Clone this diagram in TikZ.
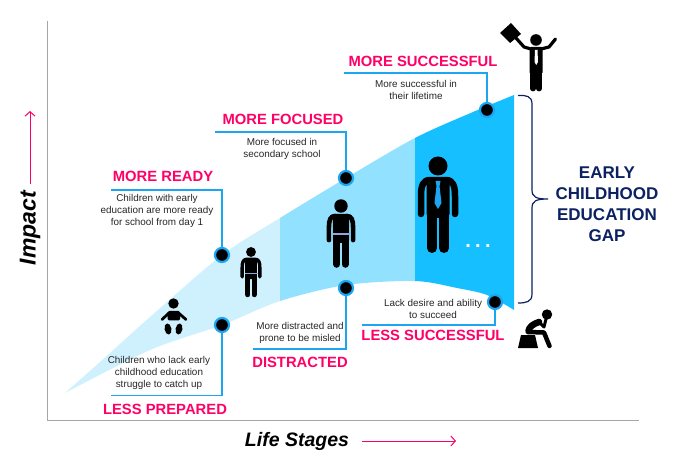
\documentclass[tikz,border=0pt]{standalone}
\usepackage{fontspec}
\setmainfont{Liberation Sans}
\usetikzlibrary{arrows.meta}
\definecolor{bandlight}{HTML}{CFF0FD}
\definecolor{bandmid}{HTML}{92E1FF}
\definecolor{banddark}{HTML}{16BFFF}
\definecolor{hotpink}{HTML}{FF0066}
\definecolor{navytext}{HTML}{0B2161}
\definecolor{ringblue}{HTML}{1CA5F0}
\definecolor{axisgrey}{HTML}{A6A6A6}
\definecolor{beltblue}{HTML}{8FA6E0}
\tikzset{
    heading/.style={text=hotpink, font=\fontsize{14.8}{17}\selectfont\bfseries},
    note/.style={text=black!85, align=center, font=\fontsize{9.9}{12}\selectfont},
    gaptext/.style={text=navytext, align=center, font=\fontsize{17}{21}\selectfont\bfseries},
    axistitle/.style={font=\fontsize{19.5}{22}\selectfont\bfseries\itshape},
    dot/.style={circle, fill=black, draw=ringblue, line width=2.2pt, minimum size=14pt, inner sep=0pt},
    leader/.style={ringblue, line width=1.1pt},
    pinkarrow/.style={hotpink, line width=1pt, -{Straight Barb[length=4.5pt, width=10pt]}},
    axisline/.style={axisgrey, line width=1.1pt},
    limb/.style={black, line cap=round, line join=round},
}
% standing figure, head centre at (#1,#2), #3 = size
\newcommand{\personfig}[3]{
    \begin{scope}[shift={(#1,#2)}, scale=#3]
        \fill[black] (0,0) circle (9.5);
        \fill[black, rounded corners=4*#3] (-11.5,11) rectangle (11.5,52);
        \draw[limb, line width=#3*10pt] (-6,45) -- (-6,82) (6,45) -- (6,82);
        \draw[limb, line width=#3*6.5pt] (-8,14) .. controls (-15,14) and (-17,20) .. (-17,30) -- (-17,48);
        \draw[limb, line width=#3*6.5pt] (8,14) .. controls (15,14) and (17,20) .. (17,30) -- (17,48);
    \end{scope}
}
\newcommand{\gapband}{plot[smooth] coordinates {(65,393) (100,362) (150,317) (222,255) (280,218) (346,178) (415,138) (473,112) (514,95)} -- plot[smooth] coordinates {(514,310) (487,295) (457,288) (415,281) (346,285) (280,301) (222,325) (150,350) (65,393)} -- cycle}

\begin{document}
\begin{tikzpicture}[x=1pt, y=-1pt]
    \useasboundingbox (0,0) rectangle (680,462);

    \foreach \xa/\xb/\bandcol in {40/280/bandlight, 280/415/bandmid, 415/520/banddark} {
        \begin{scope}
            \clip (\xa,0) rectangle (\xb,462);
            \fill[\bandcol] \gapband;
        \end{scope}
    }

    \coordinate (axistop) at (47.5,21);
    \coordinate (origin) at (47.5,420.5);
    \coordinate (axisright) at (639,420.5);
    \draw[axisline] (axistop) -- (origin) -- (axisright);

    \node[axistitle, rotate=90, font=\fontsize{23}{25}\selectfont\bfseries\itshape] (impact) at (30,228) {Impact};
    \coordinate (impacttip) at (30,111);
    \coordinate (impactstart) at (30,184);
    \draw[pinkarrow] (impactstart) -- (impacttip);
    \node[axistitle] (stages) at (297,441) {Life Stages};
    \coordinate (stagesstart) at (362,441);
    \coordinate (stagestip) at (456,441);
    \draw[pinkarrow] (stagesstart) -- (stagestip);

    % figures
    \fill[black] (173.5,303.5) circle (5.2);
    \fill[black, rounded corners=1.5] (167.5,311) rectangle (180,320.5);
    \draw[limb, line width=2.8pt] (169,313) -- (162,319.5) (178.5,313) -- (186,319.5);
    \fill[black, rotate around={10:(168,329)}] (168,329) ellipse (3.4 and 5.6);
    \fill[black, rotate around={-10:(179,329)}] (179,329) ellipse (3.4 and 5.6);

    \personfig{251}{252}{0.52}
    \draw[beltblue, line width=0.9pt] (245,273) -- (258,273);
    \personfig{341}{206}{0.71}
    \draw[beltblue, line width=1.3pt] (333,234) -- (350,234);
    \personfig{438}{166}{1}
    \fill[ringblue] (435.5,181) -- (440.5,181) -- (439.5,186) -- (441.5,203) -- (438,209) -- (434.5,203) -- (436.5,186) -- cycle;
    \node[text=white, font=\fontsize{20}{22}\selectfont\bfseries] (dots) at (478,246) {.\hspace{4.4pt}.\hspace{4.4pt}.};

    \fill[black] (536,40) circle (5.8);
    \fill[black, rounded corners=1.5] (529.5,47) rectangle (542.5,74);
    \draw[limb, line width=5.8pt] (533,70) -- (533,88.5) (539.2,70) -- (539.2,88.5);
    \draw[limb, line width=3.2pt] (531,49) -- (524,47) -- (516,38) (541,49) -- (549,47) -- (555.5,39);
    \fill[white] (535,50) -- (537.5,50) -- (538,62) -- (536.2,65) -- (534.5,62) -- cycle;
    \fill[black] (500,33) -- (511,23) -- (521,34) -- (510,43) -- cycle;
    \fill[black] (538,348) -- (518,348) -- (521,335) -- (535,335) -- cycle;
    \fill[black] (547,314.5) circle (5.2);
    \draw[limb, line width=6.5pt] (539,322) .. controls (533,324) and (529,327) .. (528.5,331);
    \draw[limb, line width=4.5pt] (528,332) -- (544,332.5) -- (549.5,346);
    \draw[limb, line width=3pt] (538,321) -- (544,327) -- (546,319);

    % brace
    \draw[navytext, line width=1.2pt] (518,95.5) .. controls (526,95) and (532,96) .. (532,104) -- (532,190) .. controls (532,197) and (536,199) .. (548,199) .. controls (536,199) and (532,201) .. (532,208) -- (532,294) .. controls (532,302) and (526,303) .. (518,303);
    \node[gaptext] (gaplabel) at (607,204.5) {EARLY\\CHILDHOOD\\EDUCATION\\GAP};

    % upper callouts
    \node[heading] (readyhead) at (163,176) {MORE READY};
    \node[note] (readytext) at (157,210.5) {Children with early\\education are more ready\\for school from day 1};
    \node[dot] (readydot) at (222,255) {};
    \coordinate (readyend) at (111,190);
    \draw[leader] (readydot) |- (readyend);

    \node[heading] (focushead) at (283,119) {MORE FOCUSED};
    \node[note] (focustext) at (282,149) {More focused in\\secondary school};
    \node[dot] (focusdot) at (346,178) {};
    \coordinate (focusend) at (215,132);
    \draw[leader] (focusdot) |- (focusend);

    \node[heading] (succhead) at (423,61) {MORE SUCCESSFUL};
    \node[note] (succtext) at (416,90) {More successful in\\their lifetime};
    \node[dot] (succdot) at (487,110) {};
    \coordinate (succend) at (344,73);
    \draw[leader] (succdot) |- (succend);

    % lower callouts
    \node[heading] (prephead) at (165,409) {LESS PREPARED};
    \node[note] (preptext) at (159,373) {Children who lack early\\childhood education\\struggle to catch up};
    \node[dot] (prepdot) at (222,325) {};
    \coordinate (prepend) at (111,395.5);
    \draw[leader] (prepdot) |- (prepend);

    \node[heading] (disthead) at (300,362) {DISTRACTED};
    \node[note] (disttext) at (300,333) {More distracted and\\prone to be misled};
    \node[dot] (distdot) at (346,288) {};
    \coordinate (distend) at (253,349);
    \draw[leader] (distdot) |- (distend);

    \node[heading] (lesshead) at (433,335) {LESS SUCCESSFUL};
    \node[note] (lesstext) at (433,309) {Lack desire and ability\\to succeed};
    \node[dot] (lessdot) at (495,302) {};
    \coordinate (lessend) at (362,325);
    \draw[leader] (lessdot) |- (lessend);
\end{tikzpicture}
\end{document}
